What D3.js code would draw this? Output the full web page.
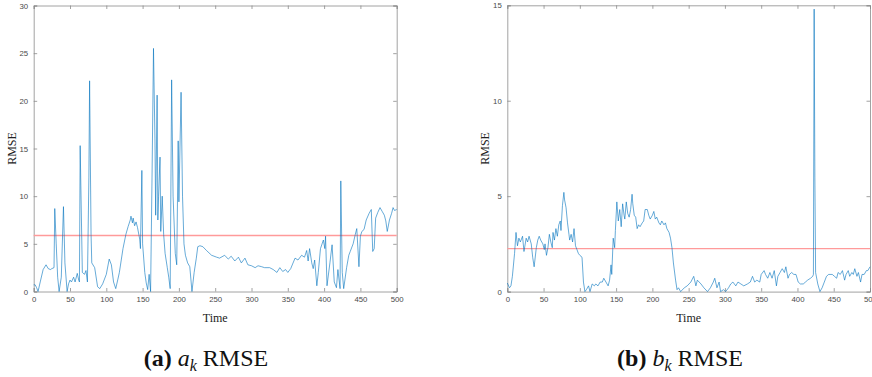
<!DOCTYPE html>
<html>
<head>
<meta charset="utf-8">
<script src="https://cdn.jsdelivr.net/npm/d3@7"></script>
<style>
  body { margin: 0; background: #fff; }
  svg { display: block; }
  .tick text { font-family: "Liberation Sans", Arial, sans-serif; font-size: 7.8px; fill: #4a4a4a; }
  .domain, .tick line { stroke: #8a8a8a; stroke-width: 0.8; }
  .lbl { font-family: "Liberation Serif", "Times New Roman", serif; font-size: 12px; fill: #222; }
  .cap { font-family: "Liberation Serif", "Times New Roman", serif; font-size: 24px; fill: #111; }
</style>
</head>
<body>
<svg id="chart" width="872" height="377"></svg>
<script>
// panel (a): a_k RMSE over time
var aTime = [0,2,4,6,9,13,17,20,23,25,28,29,31,33,35,38,41,43,46,48,50,52,55,57,60,62,63,64,67,70,72,74,76,77,79,80,84,88,91,95,100,104,107,110,113,116,118,123,127,130,133,134,136,137,139,141,143,146,147,149,150,153,155,157,159,161,163,165,167,168,170,171,172,174,175,177,179,181,184,186,188,190,192,195,197,199,200,203,205,207,209,212,215,218,221,224,226,229,233,238,245,252,256,263,268,272,277,282,286,291,295,300,305,309,314,318,325,330,335,339,343,347,350,354,360,364,369,373,376,378,380,383,385,387,390,392,395,399,401,402,404,408,411,414,417,419,422,423,425,427,431,434,436,440,443,445,448,450,452,455,458,462,465,467,469,471,474,477,480,483,485,487,490,493,495,497,500];
var aRmse = [0.7,0.7,0.4,0.0,1.0,2.3,2.8,2.4,2.3,2.4,2.5,8.7,5.0,1.5,0.0,1.5,8.9,3.0,0.0,0.8,1.2,1.0,1.5,1.0,1.9,1.2,1.0,15.3,2.0,1.8,2.2,1.0,12.0,22.1,6.0,3.0,2.5,0.5,0.3,0.8,1.8,3.4,2.8,1.0,0.3,1.3,2.0,4.5,6.0,6.8,7.5,7.9,7.2,7.7,6.9,7.3,6.7,5.5,4.5,12.7,5.0,2.0,0.9,0.2,1.8,0.0,12.0,25.5,16.0,8.0,20.6,7.5,10.0,14.1,6.3,10.0,6.0,4.0,2.5,1.5,0.3,22.2,10.0,4.0,2.8,15.8,9.4,20.9,10.0,5.0,3.8,3.0,2.6,0.0,2.0,3.5,4.7,4.8,4.7,4.3,3.8,3.6,3.5,3.8,3.4,3.7,3.2,3.6,3.0,3.5,2.8,2.7,2.5,2.7,2.6,2.5,2.5,2.3,2.0,2.5,2.1,2.3,2.0,2.4,3.5,3.3,3.8,3.6,4.3,3.2,4.5,3.0,2.4,3.3,0.6,2.0,4.5,5.4,4.5,5.8,0.6,3.0,4.9,1.0,0.4,2.3,0.3,11.6,2.0,0.3,2.5,3.8,4.2,5.0,6.0,6.6,2.6,5.8,6.3,6.5,7.5,8.2,8.6,4.2,4.5,7.7,8.3,8.8,8.4,8.0,7.4,6.3,7.5,8.2,8.8,8.5,8.6];
var aThreshold = 5.87;

// panel (b): b_k RMSE over time
var bTime = [0,3,5,7,10,12,14,16,18,21,23,26,28,30,33,35,37,40,42,44,46,49,51,52,54,56,58,60,62,63,65,67,69,71,73,74,76,78,79,81,83,85,86,88,90,92,94,96,98,100,103,105,107,109,112,114,117,120,122,125,128,131,133,136,139,141,143,144,146,148,149,151,153,155,157,159,161,162,164,166,168,170,172,173,175,177,179,181,183,186,188,190,193,195,197,200,202,204,206,209,211,213,216,218,220,223,225,227,229,232,234,236,239,244,248,253,257,260,262,267,271,276,280,284,286,289,292,294,298,301,305,308,311,315,318,322,326,331,335,338,341,344,348,350,354,356,359,362,365,368,371,373,376,379,382,384,387,389,392,395,398,401,404,408,411,414,418,421,422,423,424,425,428,431,434,437,440,443,448,451,454,456,459,462,465,467,470,472,475,477,479,482,484,487,489,492,495,497,500];
var bRmse = [0.45,0.2,0.3,0.8,2.0,3.1,2.4,2.8,2.6,2.9,2.1,2.8,2.6,2.9,2.5,1.8,1.3,2.3,2.7,2.9,2.7,2.5,2.2,2.5,1.9,2.3,3.0,2.6,2.3,3.1,2.7,3.3,2.9,3.5,3.7,3.2,4.5,5.2,4.8,4.4,3.6,3.0,2.7,3.0,2.6,3.3,2.4,2.2,2.0,1.9,1.8,0.5,0.0,0.1,0.3,0.0,0.4,0.3,0.4,0.3,0.5,0.5,0.7,0.5,0.3,0.6,1.4,0.9,2.8,2.3,3.2,4.7,3.7,4.3,3.4,4.6,4.0,3.8,4.7,4.1,3.9,4.3,5.1,4.6,4.0,3.9,3.3,3.5,3.4,3.6,3.7,4.3,4.3,4.0,3.8,4.0,4.2,3.8,3.9,3.6,3.5,3.7,3.5,3.6,3.3,3.1,2.8,2.3,1.5,0.6,0.1,0.2,0.0,0.2,0.3,0.5,0.8,0.3,0.6,0.4,0.2,0.0,0.2,0.5,0.7,0.2,0.5,0.0,0.1,0.0,0.2,0.4,0.5,0.3,0.5,0.4,0.3,0.4,0.5,0.8,0.5,0.6,0.5,0.9,1.1,0.9,0.7,1.0,0.7,1.1,0.3,0.8,1.0,1.2,1.0,1.3,0.7,0.9,1.0,0.9,0.9,0.5,0.4,0.4,0.5,0.6,0.7,0.8,0.9,14.8,6.0,1.0,0.4,0.0,0.2,0.5,0.8,0.9,0.9,0.8,0.7,1.0,0.9,1.1,0.6,0.9,1.1,0.8,1.0,0.9,1.2,0.8,1.0,0.5,0.9,0.9,1.1,1.1,1.3];
var bThreshold = 2.25;

var xTicks = [0,50,100,150,200,250,300,350,400,450,500];
var aYTicks = [0,5,10,15,20,25,30];
var bYTicks = [0,5,10,15];

var svg = d3.select('#chart');

var panels = [
  {time: aTime, vals: aRmse, thr: aThreshold, yMax: 30, yTicks: aYTicks,
   x0: 33.7, x1: 396.7, y0: 291.5, y1: 5.5, capX: 206, capLetter: 'a', capTag: '(a)'},
  {time: bTime, vals: bRmse, thr: bThreshold, yMax: 15, yTicks: bYTicks,
   x0: 507.3, x1: 870, y0: 291.6, y1: 5.3, capX: 680, capLetter: 'b', capTag: '(b)'}
];

panels.forEach(function(p){
  var x = d3.scaleLinear().domain([0, 500]).range([p.x0, p.x1]);
  var y = d3.scaleLinear().domain([0, p.yMax]).range([p.y0, p.y1]);
  var g = svg.append('g');

  // axes with inward ticks, box style
  g.append('g').attr('transform', 'translate(0,' + p.y0 + ')')
    .call(d3.axisBottom(x).tickValues(xTicks).tickSize(-3.5).tickPadding(5));
  g.append('g').attr('transform', 'translate(0,' + p.y1 + ')')
    .call(d3.axisTop(x).tickValues(xTicks).tickSize(-3.5).tickFormat(''));
  g.append('g').attr('transform', 'translate(' + p.x0 + ',0)')
    .call(d3.axisLeft(y).tickValues(p.yTicks).tickSize(-3.5).tickPadding(5.5));
  g.append('g').attr('transform', 'translate(' + p.x1 + ',0)')
    .call(d3.axisRight(y).tickValues(p.yTicks).tickSize(-3.5).tickFormat(''));
  g.selectAll('.domain').attr('fill', 'none');

  var pts = p.time.map(function(t, i){ return [t, p.vals[i]]; });
  var line = d3.line().x(function(d){ return x(d[0]); }).y(function(d){ return y(d[1]); });

  // threshold line
  g.append('line')
    .attr('x1', x(0)).attr('x2', x(500))
    .attr('y1', y(p.thr)).attr('y2', y(p.thr))
    .attr('stroke', '#ff9a9a')
    .attr('stroke-width', 1.4);

  g.append('path').datum(pts)
    .attr('d', line)
    .attr('fill', 'none')
    .attr('stroke', '#0072BD')
    .attr('stroke-width', 0.6)
    .attr('stroke-linejoin', 'round');

  g.append('text').attr('class', 'lbl')
    .attr('x', (p.x0 + p.x1) / 2).attr('y', 322)
    .attr('text-anchor', 'middle').text('Time');

  g.append('text').attr('class', 'lbl')
    .attr('transform', 'translate(' + (p.x0 - 18) + ',' + ((p.y0 + p.y1) / 2) + ') rotate(-90)')
    .attr('text-anchor', 'middle').text('RMSE');

  var cap = g.append('text').attr('class', 'cap')
    .attr('x', p.capX).attr('y', 366).attr('text-anchor', 'middle');
  cap.append('tspan').attr('font-weight', 'bold').text(p.capTag);
  cap.append('tspan').text(' ');
  cap.append('tspan').attr('font-style', 'italic').text(p.capLetter);
  cap.append('tspan').attr('font-style', 'italic').attr('font-size', '16px').attr('dy', 5).text('k');
  cap.append('tspan').attr('dy', -5).text(' RMSE');
});
</script>
</body>
</html>
